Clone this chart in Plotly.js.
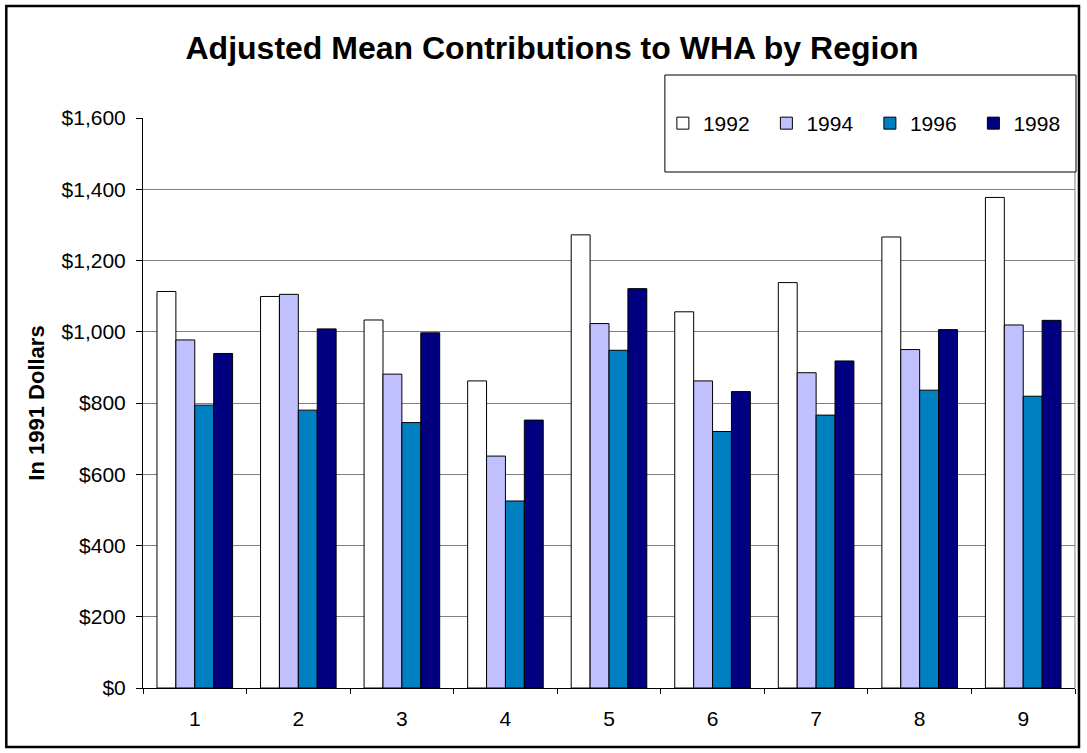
<!DOCTYPE html>
<html>
<head>
<meta charset="utf-8">
<script src="https://cdn.plot.ly/plotly-3.0.1.min.js"></script>
<style>
  html, body { margin: 0; padding: 0; background: #fff; overflow: hidden; }
  #chart { width: 1087px; height: 753px; }
</style>
</head>
<body>
<div id="chart"></div>
<script>
// ---- data ----
const regions = ['1', '2', '3', '4', '5', '6', '7', '8', '9'];
const seriesNames = ['1992', '1994', '1996', '1998'];
const v1992 = [1113, 1099, 1033, 862, 1272, 1056, 1138, 1266, 1377];
const v1994 = [977, 1105, 881, 651, 1023, 862, 885, 950, 1019];
const v1996 = [794, 780, 745, 525, 948, 720, 766, 836, 819];
const v1998 = [939, 1008, 997, 752, 1121, 832, 918, 1006, 1032];
const seriesColors = ['#FFFFFF', '#C0C0FF', '#0080C0', '#000080'];
const yTickVals = [0, 200, 400, 600, 800, 1000, 1200, 1400, 1600];
const yTickText = yTickVals.map(v => '$' + v.toLocaleString('en-US'));

const W = 1087, H = 753;
const M = { l: 143, r: 10, t: 118, b: 65 };
const pw = W - M.l - M.r, ph = H - M.t - M.b;
const px = x => (x - M.l) / pw;          // pixel -> paper x
const py = y => (H - M.b - y) / ph;      // pixel -> paper y

const FONT = 'Arial, "Liberation Sans", sans-serif';
const values = [v1992, v1994, v1996, v1998];

const traces = seriesNames.map((name, i) => ({
  type: 'bar',
  name: name,
  x: regions,
  y: values[i],
  marker: { color: seriesColors[i], line: { color: '#000000', width: 1 } },
  hoverinfo: 'x+y+name'
}));

const layout = {
  width: W, height: H,
  margin: M,
  paper_bgcolor: '#FFFFFF',
  plot_bgcolor: '#FFFFFF',
  font: { family: FONT, color: '#000000', size: 21 },
  barmode: 'group',
  bargap: 0.27,
  bargroupgap: 0,
  title: {
    text: 'Adjusted Mean Contributions to WHA by Region',
    font: { family: FONT, size: 32, weight: 'bold', color: '#000000' },
    x: 552 / W, xref: 'container', xanchor: 'center',
    y: 1 - 48 / H, yref: 'container', yanchor: 'middle'
  },
  xaxis: {
    type: 'category',
    tickson: 'boundaries',
    ticks: 'outside', ticklen: 5, tickcolor: '#000000', tickwidth: 1,
    showline: true, linecolor: '#000000', linewidth: 1,
    showgrid: false, zeroline: false,
    ticklabelstandoff: 12,
    tickfont: { family: FONT, size: 21, color: '#000000' },
    automargin: false,
    fixedrange: true
  },
  yaxis: {
    range: [0, 1600],
    tickmode: 'array',
    tickvals: yTickVals,
    ticktext: yTickText,
    ticks: 'outside', ticklen: 6, tickcolor: '#000000', tickwidth: 1,
    showline: true, linecolor: '#000000', linewidth: 1,
    showgrid: true, gridcolor: '#808080', gridwidth: 1,
    zeroline: false,
    ticklabelstandoff: 6,
    tickfont: { family: FONT, size: 21, color: '#000000' },
    title: {
      text: 'In 1991 Dollars',
      font: { family: FONT, size: 22, weight: 'bold', color: '#000000' },
      standoff: 10
    },
    automargin: false,
    fixedrange: true
  },
  showlegend: true,
  legend: {
    orientation: 'h',
    x: px(664), xanchor: 'left',
    y: py(123.5), yanchor: 'middle',
    bgcolor: 'rgba(0,0,0,0)',
    borderwidth: 0,
    font: { family: FONT, size: 21, color: '#000000' },
    entrywidth: 58.5, entrywidthmode: 'pixels',
    traceorder: 'normal'
  },
  shapes: [
    // plot-area right border
    { type: 'line', xref: 'paper', yref: 'paper', x0: 1, x1: 1, y0: 0, y1: 1,
      line: { color: '#808080', width: 1 }, layer: 'above' },
    // legend box
    { type: 'rect', xref: 'paper', yref: 'paper',
      x0: px(666), x1: px(1078), y0: py(172), y1: py(75),
      fillcolor: '#FFFFFF', line: { color: '#000000', width: 1 }, layer: 'above' },
    // outer chart border
    { type: 'rect', xref: 'paper', yref: 'paper',
      x0: px(6), x1: px(1081), y0: py(747), y1: py(6),
      fillcolor: 'rgba(0,0,0,0)', line: { color: '#000000', width: 2.5 }, layer: 'above' }
  ]
};

Plotly.newPlot('chart', traces, layout, { displayModeBar: false });
</script>
</body>
</html>
